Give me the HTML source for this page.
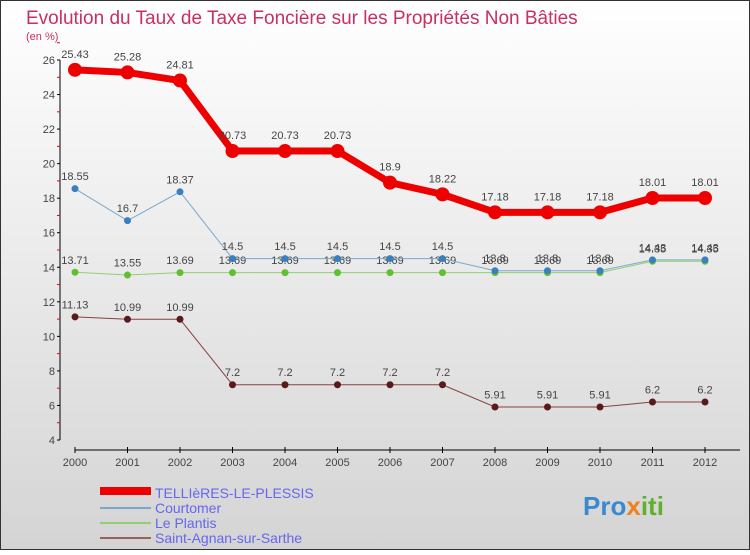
<!DOCTYPE html>
<html><head><meta charset="utf-8"><style>
body{margin:0;width:750px;height:550px;overflow:hidden;font-family:"Liberation Sans",sans-serif}
</style></head><body>
<svg width="750" height="550" xmlns="http://www.w3.org/2000/svg" id="svg">
<defs><linearGradient id="bg" x1="0" y1="0" x2="0" y2="1"><stop offset="0" stop-color="#ffffff"/><stop offset="1" stop-color="#d4d4d4"/></linearGradient></defs>
<rect x="0.5" y="0.5" width="749" height="549" fill="url(#bg)" stroke="#333" stroke-width="1"/>
<text x="26" y="24" font-size="19" fill="#c8305f">Evolution du Taux de Taxe Foncière sur les Propriétés Non Bâties</text>
<text x="26" y="40" font-size="11" fill="#c8305f">(en %)</text>
<g id="axes"></g><g id="series"></g>
<g font-size="14" fill="#6666ee">
<rect x="100" y="487" width="51" height="8" fill="#ee0000"/><text x="155" y="498">TELLIèRES-LE-PLESSIS</text>
<rect x="100" y="507" width="51" height="2" fill="#7aa8cc"/><text x="155" y="513">Courtomer</text>
<rect x="100" y="522" width="51" height="2" fill="#90d070"/><text x="155" y="528">Le Plantis</text>
<rect x="100" y="537" width="51" height="2" fill="#9a6060"/><text x="155" y="543">Saint-Agnan-sur-Sarthe</text>
</g>
<g font-size="26" font-weight="bold"><text x="583" y="515" fill="#3a8ad0">Pro<tspan fill="#f08020">x</tspan><tspan fill="#60b030">iti</tspan></text></g>
</svg>
<script>
const years=[2000,2001,2002,2003,2004,2005,2006,2007,2008,2009,2010,2011,2012];
const yTicks=[4,6,8,10,12,14,16,18,20,22,24,26];
const tellieres=[25.43,25.28,24.81,20.73,20.73,20.73,18.9,18.22,17.18,17.18,17.18,18.01,18.01];
const courtomer=[18.55,16.7,18.37,14.5,14.5,14.5,14.5,14.5,13.8,13.8,13.8,14.43,14.43];
const plantis=[13.71,13.55,13.69,13.69,13.69,13.69,13.69,13.69,13.69,13.69,13.69,14.35,14.35];
const agnan=[11.13,10.99,10.99,7.2,7.2,7.2,7.2,7.2,5.91,5.91,5.91,6.2,6.2];
const NS="http://www.w3.org/2000/svg";
const x=i=>75+i*52.5, y=v=>440-(v-4)*(380/22);
function mk(t,a,p){const e=document.createElementNS(NS,t);for(const k in a)e.setAttribute(k,a[k]);p.appendChild(e);return e;}
const ax=document.getElementById('axes');
const ya=mk('line',{x1:60,y1:60,x2:60,y2:440,stroke:'#000'},ax);


yTicks.forEach(v=>{mk('line',{x1:57,y1:y(v),x2:60,y2:y(v),stroke:'#000'},ax);
 mk('line',{x1:57,y1:y(v+1),x2:60,y2:y(v+1),stroke:'#e00'},ax);
 const t=mk('text',{x:55,y:y(v)+4,'font-size':11,'text-anchor':'end',fill:'#444'},ax);t.textContent=v;
 
 });
const xa=mk('line',{x1:75,y1:450,x2:740,y2:450,stroke:'#000'},ax);


years.forEach((yr,i)=>{mk('line',{x1:x(i),y1:447,x2:x(i),y2:453,stroke:'#000'},ax);
 const t=mk('text',{x:x(i),y:466,'font-size':11,'text-anchor':'middle',fill:'#444'},ax);t.textContent=yr;
 
 });
const sg=document.getElementById('series');
function series(d,name,col,dot,w,r){
 const g=mk('g',{},sg);
 
 
 mk('polyline',{points:d.map((v,i)=>x(i)+','+y(v)).join(' '),fill:'none',stroke:col,'stroke-width':w},g);
 d.forEach((v,i)=>{const c=mk('circle',{cx:x(i),cy:y(v),r:r,fill:dot},g);
  
  
  const t=mk('text',{x:x(i),y:y(v)-(r+5),'font-size':11,'text-anchor':'middle',fill:'#444'},g);t.textContent=v;
  
  });
}
series(agnan,'series-saint-agnan','#8a4040','#5a1a1a',1,3.5);
series(plantis,'series-le-plantis','#90d070','#60c030',1,3.5);
series(courtomer,'series-courtomer','#7aa8cc','#3a80c0',1,3.5);
series(tellieres,'series-tellieres','#ee0000','#ee0000',7,7);
</script>
</body></html>
